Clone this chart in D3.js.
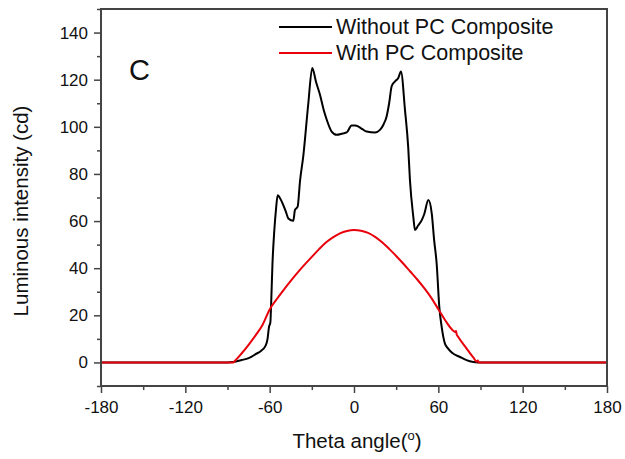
<!DOCTYPE html>
<meta charset="utf-8">
<script src="https://d3js.org/d3.v7.min.js"></script>
<style>
  body { margin: 0; background: #fff; }
  text { font-family: "Liberation Sans", Arial, sans-serif; fill: #111; }
</style>
<svg id="chart" width="625" height="459"></svg>
<script>

// Without PC Composite (black)
const withoutAngle = [-180, -150, -90, -86, -80, -75, -70, -66, -63, -61.5, -60.5, -59.5, -59, -58, -56.7, -55.5, -54.3,
  -52, -50.3, -48.5, -46.7, -43.2, -42, -40.1, -38.4, -36, -32.5, -29.7, -27, -24.2, -21.5, -19.4, -15.9,
  -12.3, -8, -5.2, -1.7, 1, 3.1, 6, 9, 14.9, 18.5, 21, 23.2, 25, 26.8, 29.2, 31.5, 33.4, 36.3, 38.6, 39.8, 42.2,
  43.4, 45.5, 48.2, 50, 52.9, 55.3, 57, 58.8, 60.7, 62.4, 64.7, 67.1, 70, 75.4, 80, 84.9, 88, 120, 180];
const withoutValue = [0, 0, 0, 0.2, 1.0, 1.8, 3.5, 5.0, 7.0, 10, 15, 17, 24, 42, 56, 65, 71,
  69, 66.8, 64, 61.1, 60.1, 64.7, 66.1, 77, 88, 110, 125, 119, 113.6, 107, 103, 98,
  96.6, 97.2, 97.6, 100.6, 100.6, 100.1, 99, 98, 97.6, 98.7, 101, 104.4, 110, 117.2, 119.3, 120.7, 123.5, 107, 91, 77.4, 61.8,
  56.2, 58, 60.4, 63, 68.9, 63.3, 52, 42, 23.5, 15, 8, 5.8, 4, 2.3, 1, 0.2, 0, 0, 0];

// With PC Composite (red)
const withAngle = [-180, -120, -86, -84.5, -80, -75, -70, -65, -60, -55, -50, -45, -40, -35, -30, -25, -20,
  -15, -10, -5, 0, 5, 10, 15, 20, 25, 30, 35, 40, 45, 50, 55, 60, 65, 70, 72, 72.6, 73, 74.2, 80, 85,
  87.3, 88, 89, 120, 180];
const withValue = [0, 0, 0, 0.8, 3.8, 7.5, 11.5, 16, 22.5, 26.8, 30.8, 34.6, 38.2, 41.6, 44.8, 48, 50.9,
  53.1, 54.8, 55.8, 56.2, 55.9, 55, 53.3, 51, 48.2, 45.2, 42, 38.6, 35.2, 31.5, 27.4, 22.6, 17.8, 13.8, 12.9, 13.3, 12, 10.8, 6, 2,
  0.3, 0.8, 0, 0, 0];

const xMajor = [-180, -120, -60, 0, 60, 120, 180];
const xMinor = [-150, -90, -30, 30, 90, 150];
const yMajor = [0, 20, 40, 60, 80, 100, 120, 140];
const yMinor = [-10, 10, 30, 50, 70, 90, 110, 130, 150];

const legendNames = ["Without PC Composite", "With PC Composite"];
const legendColors = ["#000000", "#e8000b"];

const svg = d3.select("#chart");
const plotLeft = 101, plotRight = 607, plotTop = 9, plotBottom = 386;

const x = d3.scaleLinear().domain([-180, 180]).range([plotLeft, plotRight]);
const y = d3.scaleLinear().domain([-10, 150]).range([plotBottom, plotTop]);

const axisColor = "#444";
const plain = d => String(d);   // hyphen minus like the original

// minor ticks
svg.append("g")
  .attr("transform", `translate(0,${plotBottom})`)
  .call(d3.axisBottom(x).tickValues(xMinor).tickSize(4).tickFormat(""))
  .call(g => g.select(".domain").remove());
svg.append("g")
  .attr("transform", `translate(${plotLeft},0)`)
  .call(d3.axisLeft(y).tickValues(yMinor).tickSize(4).tickFormat(""))
  .call(g => g.select(".domain").remove());

// major ticks
svg.append("g")
  .attr("transform", `translate(0,${plotBottom})`)
  .call(d3.axisBottom(x).tickValues(xMajor).tickSize(7).tickPadding(8).tickFormat(plain));
svg.append("g")
  .attr("transform", `translate(${plotLeft},0)`)
  .call(d3.axisLeft(y).tickValues(yMajor).tickSize(7).tickPadding(6).tickFormat(plain));

svg.selectAll(".tick line").attr("stroke", axisColor).attr("stroke-width", 1.5);
svg.selectAll(".domain").remove();
svg.selectAll(".tick text")
  .attr("font-family", "Liberation Sans, Arial, sans-serif")
  .attr("font-size", 17)
  .attr("fill", "#111");

// lines
const line = d3.line().x(d => x(d[0])).y(d => y(d[1])).curve(d3.curveMonotoneX);

svg.append("path")
  .datum(withoutAngle.map((a, i) => [a, withoutValue[i]]))
  .attr("fill", "none")
  .attr("stroke", legendColors[0])
  .attr("stroke-width", 2)
  .attr("stroke-linejoin", "round")
  .attr("d", line);

svg.append("path")
  .datum(withAngle.map((a, i) => [a, withValue[i]]))
  .attr("fill", "none")
  .attr("stroke", legendColors[1])
  .attr("stroke-width", 2)
  .attr("stroke-linejoin", "round")
  .attr("d", line);

// frame
svg.append("rect")
  .attr("x", plotLeft).attr("y", plotTop)
  .attr("width", plotRight - plotLeft).attr("height", plotBottom - plotTop)
  .attr("fill", "none")
  .attr("stroke", axisColor)
  .attr("stroke-width", 2);

// legend
const legend = svg.append("g");
legendNames.forEach((name, i) => {
  const ly = 27 + i * 26;
  legend.append("line")
    .attr("x1", 279).attr("x2", 332)
    .attr("y1", ly).attr("y2", ly)
    .attr("stroke", legendColors[i])
    .attr("stroke-width", 2);
  legend.append("text")
    .attr("x", 336).attr("y", ly + 7)
    .attr("font-size", 21.5)
    .text(name);
});

// panel letter
svg.append("text")
  .attr("x", 129).attr("y", 80)
  .attr("font-family", "Lato, 'Open Sans', sans-serif")
  .attr("font-size", 29)
  .text("C");

// axis titles
const xt = svg.append("text")
  .attr("x", 357).attr("y", 448)
  .attr("text-anchor", "middle")
  .attr("font-size", 20.5);
xt.append("tspan").text("Theta angle(");
xt.append("tspan").attr("font-size", 13).attr("dy", -8).text("o");
xt.append("tspan").attr("dy", 8).text(")");

svg.append("text")
  .attr("transform", "translate(28,211) rotate(-90)")
  .attr("text-anchor", "middle")
  .attr("font-size", 20.5)
  .text("Luminous intensity (cd)");

</script>
